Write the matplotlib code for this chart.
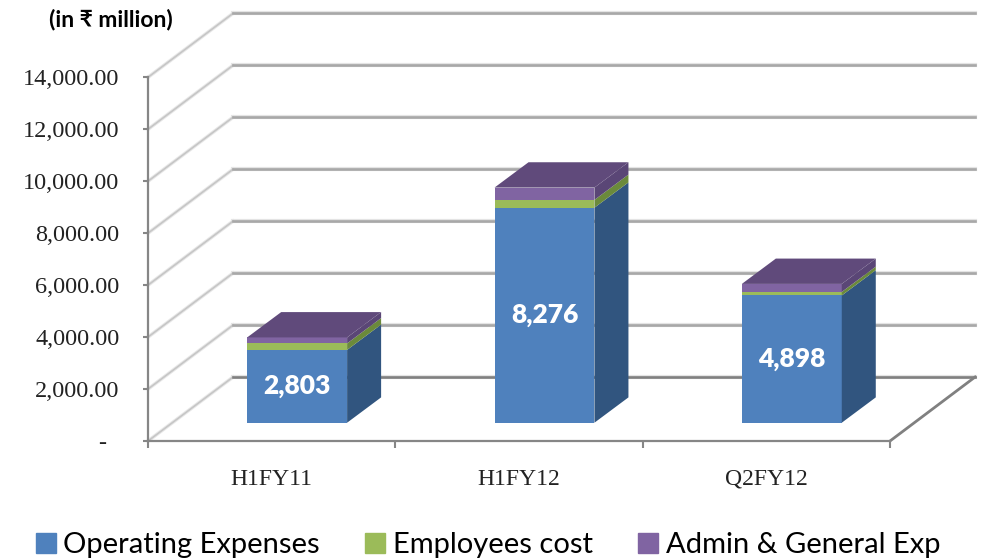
from matplotlib import pyplot as plt
from matplotlib.patches import Patch

categories = ['H1FY11', 'H1FY12', 'Q2FY12']
operating = [2803, 8276, 4898]
employees = [250, 300, 135]
admin = [230, 475, 310]
y_ticks = [0, 2000, 4000, 6000, 8000, 10000, 12000, 14000]
y_labels = ['-  ', '2,000.00', '4,000.00', '6,000.00', '8,000.00', '10,000.00', '12,000.00', '14,000.00']
series_names = ['Operating Expenses', 'Employees cost', 'Admin & General Exp']

# colours: front, side
blue = '#4f81bd'
blue_side = '#31557f'
green = '#9bbb59'
green_side = '#6b8a3b'
purple = '#8064a2'
purple_side = '#5a4676'
purple_top = '#604a7b'

# fake 3d depth, in data units
wall_dx = 0.344
wall_dy = 2463
bar_dx = 0.103
bar_dy = 704
depth_dx = 0.1375
depth_dy = 975
bar_width = 0.404

fig = plt.figure(figsize=(9.82, 5.59), dpi=100)
ax = fig.add_axes([148 / 982, 1 - 441 / 559, 742 / 982, 363.7 / 559])
ax.set_xlim(0, 3)
ax.set_ylim(0, 14000)

# walls and floor
for y in y_ticks:
    c_back = '#808080' if y == 0 else '#a8a8a8'
    ax.plot([0, wall_dx], [y, y + wall_dy], color='#e8e8e8', lw=2.6, clip_on=False, zorder=1)
    ax.plot([0, wall_dx], [y, y + wall_dy], color='#c6c6c6', lw=1.2, clip_on=False, zorder=1.1)
    ax.plot([wall_dx, 3 + wall_dx], [y + wall_dy, y + wall_dy], color='#e4e4e4', lw=3.0, clip_on=False, zorder=1)
    ax.plot([wall_dx, 3 + wall_dx], [y + wall_dy, y + wall_dy], color=c_back, lw=1.9, clip_on=False, zorder=1.1)
ax.plot([3, 3 + wall_dx], [0, wall_dy], color='#808080', lw=2.0, clip_on=False, zorder=1.1)


def draw_segment(left, low, high, front, side, z):
    right = left + bar_width
    ax.bar(left, high - low, bar_width, bottom=low, align='edge', color=front, lw=0, zorder=z, clip_on=False)
    ax.fill([right, right + depth_dx, right + depth_dx, right],
            [low, low + depth_dy, high + depth_dy, high],
            color=side, lw=0, zorder=z, clip_on=False)


for i in range(len(categories)):
    left = i + 0.5 - bar_width / 2 + bar_dx
    right = left + bar_width
    b0 = bar_dy
    b1 = b0 + operating[i]
    b2 = b1 + employees[i]
    b3 = b2 + admin[i]
    draw_segment(left, b0, b1, blue, blue_side, 3)
    draw_segment(left, b1, b2, green, green_side, 3.1)
    draw_segment(left, b2, b3, purple, purple_side, 3.2)
    ax.fill([left, right, right + depth_dx, left + depth_dx],
            [b3, b3, b3 + depth_dy, b3 + depth_dy],
            color=purple_top, lw=0, zorder=3.3, clip_on=False)
    ax.text(left + bar_width / 2, b0 + operating[i] / 2, format(operating[i], ','),
            color='white', fontsize=19, fontweight='heavy', family='Lato',
            ha='center', va='center', zorder=4)

# axes lines and ticks
for s in ['top', 'right']:
    ax.spines[s].set_visible(False)
for s in ['left', 'bottom']:
    ax.spines[s].set_color('#868686')
    ax.spines[s].set_linewidth(1.6)
    ax.spines[s].set_zorder(2)
ax.patch.set_alpha(0)

ax.set_yticks(y_ticks)
ax.set_yticklabels(y_labels, family='Liberation Serif', fontsize=17.5, color='#222222')
ax.tick_params(axis='y', length=3.6, width=1.5, color='#868686', pad=17)
ax.set_xticks([0, 1, 2, 3])
ax.set_xticklabels([])
ax.tick_params(axis='x', which='major', length=5, width=1.5, color='#868686')
ax.set_xticks([0.5, 1.5, 2.5], minor=True)
ax.set_xticklabels(categories, minor=True, family='Liberation Serif', fontsize=17, color='#222222')
ax.tick_params(axis='x', which='minor', length=0, pad=20)

fig.text(49 / 982, 1 - 19 / 559, '(in \u20b9 million)', family=['Lato', 'DejaVu Sans'], fontsize=16.5,
         fontweight='bold', ha='left', va='center', color='black')

handles = [Patch(color=blue), Patch(color=green), Patch(color=purple)]
ax.legend(handles, series_names, ncol=3, frameon=False, loc='center',
          bbox_to_anchor=(488 / 982, 1 - 545 / 559), bbox_transform=fig.transFigure,
          prop={'family': 'Lato', 'size': 21}, handlelength=0.68, handleheight=0.68,
          handletextpad=0.27, columnspacing=1.55, borderpad=0, borderaxespad=0)

fig.savefig('out.png', dpi=100)
